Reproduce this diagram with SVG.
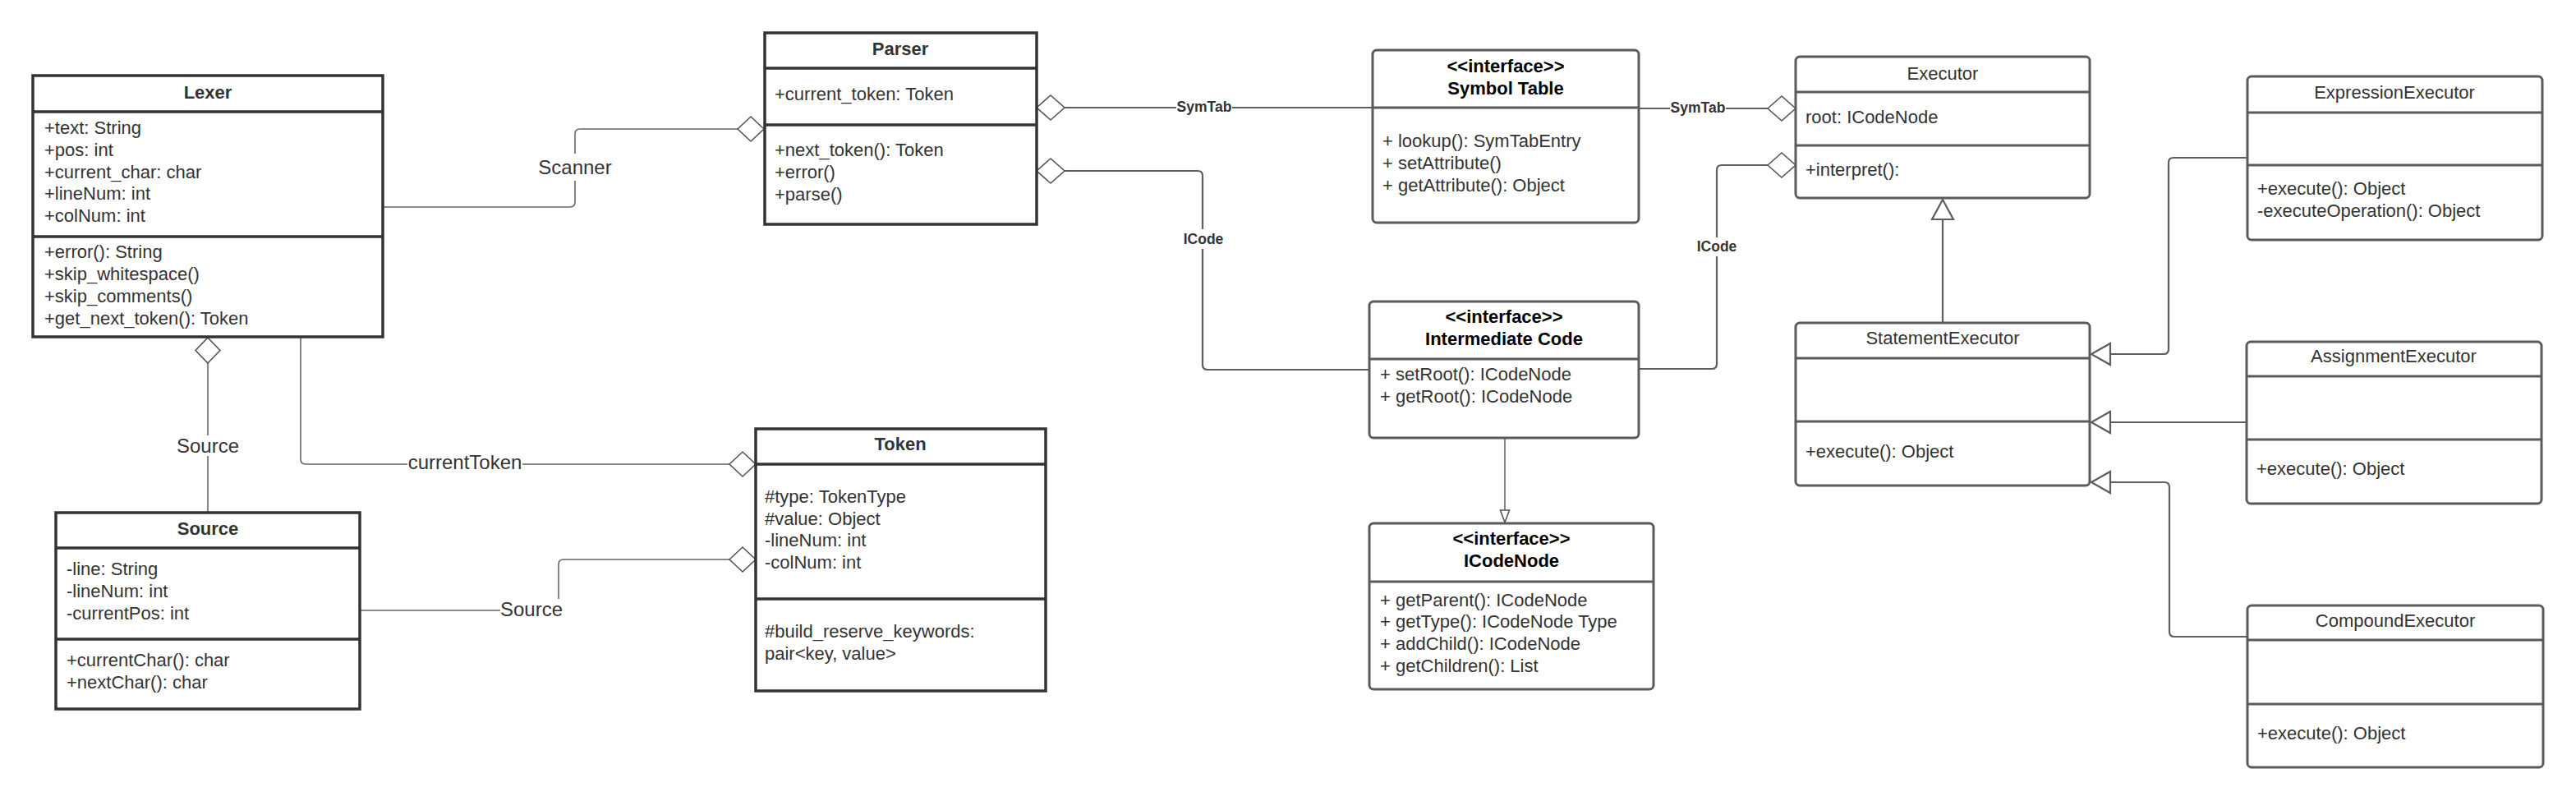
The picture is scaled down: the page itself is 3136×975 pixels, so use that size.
<svg xmlns="http://www.w3.org/2000/svg" width="3136" height="975" viewBox="0 0 3136 975">
<style>
text{font-family:"Liberation Sans",Arial,sans-serif;font-size:22px;fill:#333}
.b{font-weight:bold}
.bk{font-weight:bold;fill:#000}
.c{text-anchor:middle}
.big{font-size:24px;text-anchor:middle}
.lb{font-size:17.5px;font-weight:bold;fill:#333;text-anchor:middle}
.box1{fill:#fff;stroke:#333;stroke-width:3.5}
.div1{stroke:#333;stroke-width:3.5}
.box2{fill:#fff;stroke:#5a5a5a;stroke-width:3}
.div2{stroke:#5a5a5a;stroke-width:3}
.ln{fill:none;stroke:#666;stroke-width:1.6}
.ln2{fill:none;stroke:#5e5e5e;stroke-width:2.2}
.dia{fill:#fff;stroke:#555;stroke-width:1.6}
.tri{fill:#fff;stroke:#5e5e5e;stroke-width:2.2}
.bg{fill:#fff}
</style>
<rect width="3136" height="975" fill="#fff"/>
<g id="connectors">
  <!-- Scanner: Lexer to Parser -->
  <path class="ln" d="M466,252 H694 Q700,252 700,246 V163 Q700,157 706,157 H898"/>
  <path class="dia" d="M898,157 L914,142 L930,157 L914,172 Z"/>
  <rect class="bg" x="654" y="187" width="92" height="33"/>
  <text class="big" x="700" y="212">Scanner</text>
  <!-- Source: Source to Lexer -->
  <path class="ln" d="M253,442 V624"/>
  <path class="dia" d="M253,411 L268,426.5 L253,442 L238,426.5 Z"/>
  <rect class="bg" x="213" y="530" width="80" height="25"/>
  <text class="big" x="253" y="551">Source</text>
  <!-- currentToken: Lexer to Token -->
  <path class="ln" d="M366,410 V559 Q366,565 372,565 H888"/>
  <path class="dia" d="M888,565 L904,550 L920,565 L904,580 Z"/>
  <rect class="bg" x="496" y="551" width="140" height="26"/>
  <text class="big" x="566" y="571">currentToken</text>
  <!-- Source: Source to Token -->
  <path class="ln" d="M438,743 H680 V687 Q680,681 686,681 H888"/>
  <path class="dia" d="M888,681 L904,666 L920,681 L904,696 Z"/>
  <rect class="bg" x="609" y="729" width="77" height="26"/>
  <text class="big" x="647" y="750">Source</text>
  <!-- SymTab: Parser to Symbol Table -->
  <path class="ln2" d="M1296,131 H1671"/>
  <path class="dia" d="M1262,131 L1279,116 L1296,131 L1279,146 Z"/>
  <rect class="bg" x="1432" y="120" width="68" height="20"/>
  <text class="lb" x="1466" y="136">SymTab</text>
  <!-- ICode: Parser to Intermediate Code -->
  <path class="ln2" d="M1296,208 H1458 Q1464,208 1464,214 V444 Q1464,450 1470,450 H1667"/>
  <path class="dia" d="M1262,208 L1279,193 L1296,208 L1279,223 Z"/>
  <rect class="bg" x="1438" y="279" width="52" height="24"/>
  <text class="lb" x="1465" y="297">ICode</text>
  <!-- SymTab: Symbol Table to Executor -->
  <path class="ln2" d="M1995,132 H2152"/>
  <path class="dia" d="M2152,132 L2169,117 L2186,132 L2169,147 Z"/>
  <rect class="bg" x="2033" y="121" width="68" height="20"/>
  <text class="lb" x="2067" y="137">SymTab</text>
  <!-- ICode: Intermediate Code to Executor -->
  <path class="ln2" d="M1995,449 H2084 Q2090,449 2090,443 V207 Q2090,201 2096,201 H2152"/>
  <path class="dia" d="M2152,201 L2169,186 L2186,201 L2169,216 Z"/>
  <rect class="bg" x="2064" y="289" width="52" height="23"/>
  <text class="lb" x="2090" y="306">ICode</text>
  <!-- Intermediate Code to ICodeNode -->
  <path class="ln" d="M1832,533 V621"/>
  <path class="dia" d="M1826.5,621 L1837.5,621 L1832,636 Z"/>
  <!-- StatementExecutor to Executor -->
  <path class="ln2" d="M2365,393 V267"/>
  <path class="tri" d="M2365,243 L2378,267 L2352,267 Z"/>
  <!-- ExpressionExecutor to StatementExecutor -->
  <path class="ln2" d="M2736,192 H2646 Q2640,192 2640,198 V425 Q2640,431 2634,431 H2569"/>
  <path class="tri" d="M2546,431 L2569,418 L2569,444 Z"/>
  <!-- AssignmentExecutor to StatementExecutor -->
  <path class="ln2" d="M2735,514 H2569"/>
  <path class="tri" d="M2546,514 L2569,501 L2569,527 Z"/>
  <!-- CompoundExecutor to StatementExecutor -->
  <path class="ln2" d="M2736,775 H2647 Q2641,775 2641,769 V593 Q2641,587 2635,587 H2569"/>
  <path class="tri" d="M2546,587 L2569,574 L2569,600 Z"/>
</g>
<g id="lexer">
  <rect class="box1" x="40" y="92" width="426" height="318"/>
  <line class="div1" x1="40" y1="136" x2="466" y2="136"/>
  <line class="div1" x1="40" y1="288" x2="466" y2="288"/>
  <text class="b c" x="253" y="120">Lexer</text>
  <text x="54" y="163">+text: String</text>
  <text x="54" y="190">+pos: int</text>
  <text x="54" y="217">+current_char: char</text>
  <text x="54" y="243">+lineNum: int</text>
  <text x="54" y="270">+colNum: int</text>
  <text x="54" y="314">+error(): String</text>
  <text x="54" y="341">+skip_whitespace()</text>
  <text x="54" y="368">+skip_comments()</text>
  <text x="54" y="395">+get_next_token(): Token</text>
</g>
<g id="parser">
  <rect class="box1" x="931" y="40" width="331" height="233"/>
  <line class="div1" x1="931" y1="83" x2="1262" y2="83"/>
  <line class="div1" x1="931" y1="152" x2="1262" y2="152"/>
  <text class="b c" x="1096" y="67">Parser</text>
  <text x="943" y="122">+current_token: Token</text>
  <text x="943" y="190">+next_token(): Token</text>
  <text x="943" y="217">+error()</text>
  <text x="943" y="244">+parse()</text>
</g>
<g id="source">
  <rect class="box1" x="68" y="624" width="370" height="239"/>
  <line class="div1" x1="68" y1="667" x2="438" y2="667"/>
  <line class="div1" x1="68" y1="778" x2="438" y2="778"/>
  <text class="b c" x="253" y="651">Source</text>
  <text x="81" y="700">-line: String</text>
  <text x="81" y="727">-lineNum: int</text>
  <text x="81" y="754">-currentPos: int</text>
  <text x="81" y="811">+currentChar(): char</text>
  <text x="81" y="838">+nextChar(): char</text>
</g>
<g id="token">
  <rect class="box1" x="920" y="522" width="353" height="319"/>
  <line class="div1" x1="920" y1="565" x2="1273" y2="565"/>
  <line class="div1" x1="920" y1="729" x2="1273" y2="729"/>
  <text class="b c" x="1096" y="548">Token</text>
  <text x="931" y="612">#type: TokenType</text>
  <text x="931" y="639">#value: Object</text>
  <text x="931" y="665">-lineNum: int</text>
  <text x="931" y="692">-colNum: int</text>
  <text x="931" y="776">#build_reserve_keywords:</text>
  <text x="931" y="803">pair&lt;key, value&gt;</text>
</g>
<g id="symbol-table">
  <rect class="box2" x="1671" y="61" width="324" height="210" rx="5"/>
  <line class="div2" x1="1671" y1="131" x2="1995" y2="131"/>
  <text class="bk c" x="1833" y="88">&lt;&lt;interface&gt;&gt;</text>
  <text class="bk c" x="1833" y="115">Symbol Table</text>
  <text x="1683" y="179">+ lookup(): SymTabEntry</text>
  <text x="1683" y="206">+ setAttribute()</text>
  <text x="1683" y="233">+ getAttribute(): Object</text>
</g>
<g id="intermediate-code">
  <rect class="box2" x="1667" y="367" width="328" height="166" rx="5"/>
  <line class="div2" x1="1667" y1="437" x2="1995" y2="437"/>
  <text class="bk c" x="1831" y="393">&lt;&lt;interface&gt;&gt;</text>
  <text class="bk c" x="1831" y="420">Intermediate Code</text>
  <text x="1680" y="463">+ setRoot(): ICodeNode</text>
  <text x="1680" y="490">+ getRoot(): ICodeNode</text>
</g>
<g id="icodenode">
  <rect class="box2" x="1667" y="637" width="346" height="202" rx="5"/>
  <line class="div2" x1="1667" y1="708" x2="2013" y2="708"/>
  <text class="bk c" x="1840" y="663">&lt;&lt;interface&gt;&gt;</text>
  <text class="bk c" x="1840" y="690">ICodeNode</text>
  <text x="1680" y="738">+ getParent(): ICodeNode</text>
  <text x="1680" y="764">+ getType(): ICodeNode Type</text>
  <text x="1680" y="791">+ addChild(): ICodeNode</text>
  <text x="1680" y="818">+ getChildren(): List</text>
</g>
<g id="executor">
  <rect class="box2" x="2186" y="69" width="358" height="172" rx="5"/>
  <line class="div2" x1="2186" y1="112" x2="2544" y2="112"/>
  <line class="div2" x1="2186" y1="177" x2="2544" y2="177"/>
  <text class="c" x="2365" y="97">Executor</text>
  <text x="2198" y="150">root: ICodeNode</text>
  <text x="2198" y="214">+interpret():</text>
</g>
<g id="statement-executor">
  <rect class="box2" x="2186" y="393" width="358" height="198" rx="5"/>
  <line class="div2" x1="2186" y1="436" x2="2544" y2="436"/>
  <line class="div2" x1="2186" y1="513" x2="2544" y2="513"/>
  <text class="c" x="2365" y="419">StatementExecutor</text>
  <text x="2198" y="557">+execute(): Object</text>
</g>
<g id="expression-executor">
  <rect class="box2" x="2736" y="93" width="359" height="199" rx="5"/>
  <line class="div2" x1="2736" y1="137" x2="3095" y2="137"/>
  <line class="div2" x1="2736" y1="201" x2="3095" y2="201"/>
  <text class="c" x="2915" y="120">ExpressionExecutor</text>
  <text x="2748" y="237">+execute(): Object</text>
  <text x="2748" y="264">-executeOperation(): Object</text>
</g>
<g id="assignment-executor">
  <rect class="box2" x="2735" y="416" width="359" height="197" rx="5"/>
  <line class="div2" x1="2735" y1="458" x2="3094" y2="458"/>
  <line class="div2" x1="2735" y1="535" x2="3094" y2="535"/>
  <text class="c" x="2914" y="441">AssignmentExecutor</text>
  <text x="2747" y="578">+execute(): Object</text>
</g>
<g id="compound-executor">
  <rect class="box2" x="2736" y="737" width="360" height="197" rx="5"/>
  <line class="div2" x1="2736" y1="779" x2="3096" y2="779"/>
  <line class="div2" x1="2736" y1="857" x2="3096" y2="857"/>
  <text class="c" x="2916" y="763">CompoundExecutor</text>
  <text x="2748" y="900">+execute(): Object</text>
</g>
</svg>
